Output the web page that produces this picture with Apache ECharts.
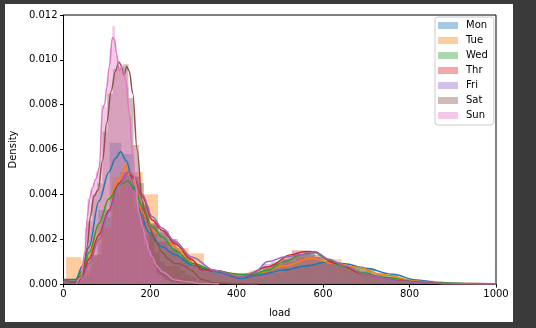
<!DOCTYPE html>
<html><head><meta charset="utf-8">
<script src="https://cdn.jsdelivr.net/npm/echarts@6/dist/echarts.min.js"></script>
<style>html,body{margin:0;padding:0;background:#3a3a3a;}#c{width:536px;height:328px;}</style>
</head><body><div id="c"></div>
<script>
const days = ['Mon','Tue','Wed','Thr','Fri','Sat','Sun'];
const colors = ['#1f77b4','#ff7f0e','#2ca02c','#d62728','#9467bd','#8c564b','#e377c2'];
const xTicks = [0,200,400,600,800,1000];
const yTicks = [0,0.002,0.004,0.006,0.008,0.010,0.012];

// histogram bins: [start, width] and heights
const monBins = [0, 26.7];
const monHist = [0.0002,0.0002,0.0012,0.0033,0.0063,0.0058,0.0034,0.0022,0.0019,0.0015,0.0012,0.0008,0.0006,0.0005,0.0004,0.0004,0.0004,0.0005,0.0005,0.0007,0.0008,0.0009,0.0010,0.0009,0.0008,0.0008,0.0007,0.0005,0.0004,0.0002,0.00015,0.0001,0.00005,0.00003,0.00002,0.00002,0.00002];
const tueBins = [6, 35.4];
const tueHist = [0.0012,0.0010,0.0026,0.0048,0.0050,0.0040,0.0019,0.0016,0.00137,0.0006,0.0004,0.0004,0.0006,0.0008,0.0010,0.0012,0.0012,0.0011,0.0008,0.0007,0.0005,0.0003,0.0002,0.00015];
const wedBins = [10, 26];
const wedHist = [0.0002,0.0004,0.0013,0.0030,0.0044,0.0047,0.0036,0.0026,0.00236,0.0016,0.0011,0.0008,0.0006,0.0005,0.0005,0.0004,0.0005,0.0007,0.0009,0.0011,0.0013,0.0014,0.0012,0.0009,0.0008,0.0007,0.0006,0.0004,0.0003,0.0002,0.00015,0.0001,0.00005,0.00003,0.00002,0.00002];
const thrBins = [0, 22];
const thrHist = [0.0001,0.0001,0.0006,0.0013,0.0025,0.0040,0.0050,0.0048,0.0035,0.0027,0.0023,0.0020,0.0013,0.0009,0.0007,0.0006,0.0005,0.0004,0.0003,0.0004,0.0005,0.0007,0.0009,0.0012,0.0015,0.0015,0.0013,0.0010,0.0009,0.0008,0.0006,0.0005,0.0004,0.0003,0.0002,0.00015,0.0001,0.00005,0.00003];
const friBins = [0, 20];
const friHist = [0.0001,0.0001,0.0003,0.0008,0.0018,0.0030,0.0043,0.0050,0.0045,0.0034,0.0027,0.0024,0.0020,0.0015,0.0011,0.0008,0.0007,0.0006,0.0005,0.0004,0.0004,0.0005,0.0006,0.0009,0.0010,0.0011,0.0012,0.0013,0.0014,0.0012,0.0010,0.0008,0.0007,0.0006,0.0005,0.0004,0.0003,0.00025,0.0002,0.00015,0.0001,0.00005,0.00004,0.00003,0.00002];
const satBins = [30, 12];
const satHist = [0.0002,0.0006,0.0028,0.0040,0.0045,0.0068,0.0085,0.0096,0.0097,0.0098,0.0083,0.0062,0.0045,0.0017,0.0022,0.0014,0.0010,0.0008,0.0008,0.0008,0.0006,0.0004,0.0003,0.0001,0.0001,0.00005,0.00003,0.00003,0.00002,0.00002];
const sunBins = [36, 6.4];
const sunHist = [0.0002,0.0008,0.0025,0.0038,0.0042,0.0045,0.0050,0.0055,0.0080,0.0079,0.0092,0.0105,0.0115,0.0102,0.0095,0.0097,0.0092,0.0088,0.0075,0.0062,0.0048,0.0035,0.0030,0.0023,0.0018,0.0015,0.0011,0.0008,0.0005,0.0004,0.0003,0.0002,0.00015,0.0001,0.00008,0.00006,0.00005,0.00004,0.00003,0.00002,0.00002];

// KDE curves [x, density]
const monKde = [[0,0.0002],[28,0.0002],[44,0.0008],[59,0.00166],[82,0.0037],[105,0.0050],[120,0.0056],[132,0.0059],[145,0.0055],[159,0.0047],[167,0.0042],[182,0.0029],[197,0.0023],[228,0.00166],[258,0.0013],[296,0.00085],[350,0.00055],[411,0.00025],[450,0.0004],[511,0.00062],[560,0.0008],[614,0.0010],[650,0.0009],[699,0.0007],[761,0.00043],[815,0.00018],[860,0.00008],[892,0.00005],[950,0.00002],[1000,0.00001]];
const tueKde = [[0,0.0001],[25,0.0001],[44,0.0005],[59,0.0012],[82,0.0027],[105,0.0038],[125,0.0046],[134,0.0048],[143,0.0053],[150,0.0049],[157,0.0050],[165,0.0044],[182,0.0032],[205,0.0024],[228,0.0021],[251,0.00174],[274,0.0014],[300,0.0009],[350,0.0006],[400,0.00042],[450,0.0005],[511,0.0008],[572,0.00115],[626,0.00093],[680,0.00075],[741,0.0004],[815,0.00013],[860,0.00005],[920,0.00002],[1000,0.00001]];
const wedKde = [[0,0.0001],[25,0.0001],[44,0.0006],[59,0.0014],[82,0.0027],[105,0.0038],[128,0.0044],[149,0.0046],[165,0.0042],[182,0.00345],[205,0.00256],[228,0.0021],[258,0.0015],[296,0.00093],[350,0.0006],[400,0.00045],[434,0.0004],[470,0.0006],[511,0.0010],[550,0.0013],[580,0.0014],[610,0.0011],[641,0.0008],[690,0.0005],[741,0.0003],[815,0.0001],[870,0.00004],[950,0.00001],[1000,0]];
const thrKde = [[0,0.0001],[25,0.0001],[44,0.0004],[59,0.0011],[82,0.0022],[105,0.0033],[128,0.0045],[151,0.0050],[165,0.0047],[182,0.0039],[205,0.00286],[228,0.0024],[258,0.0018],[296,0.0011],[319,0.00064],[350,0.0006],[411,0.0003],[473,0.00077],[526,0.0013],[555,0.00144],[580,0.00144],[626,0.00093],[702,0.0004],[779,0.00013],[840,0.00004],[900,0.00001],[1000,0]];
const friKde = [[0,0.0001],[25,0.0001],[44,0.0003],[59,0.0009],[82,0.0020],[105,0.0032],[128,0.0044],[150,0.0050],[165,0.0048],[182,0.0040],[205,0.0030],[228,0.0025],[258,0.0019],[296,0.0012],[350,0.0006],[411,0.0003],[440,0.0005],[473,0.0010],[511,0.0012],[545,0.0013],[580,0.00144],[614,0.0011],[650,0.0008],[702,0.0004],[779,0.00012],[840,0.00004],[900,0.00001],[1000,0]];
const satKde = [[0,0.0002],[20,0.0001],[35,0.0001],[45,0.0005],[55,0.0017],[62,0.0030],[70,0.0039],[80,0.0042],[90,0.0055],[100,0.0072],[110,0.0086],[120,0.0095],[128,0.0099],[135,0.0097],[140,0.0093],[146,0.0097],[152,0.0095],[160,0.0085],[170,0.0060],[182,0.0037],[190,0.0031],[197,0.0026],[213,0.0019],[228,0.0014],[243,0.0011],[258,0.0009],[268,0.0009],[280,0.0008],[295,0.0006],[320,0.0002],[350,0.00006],[400,0.00001],[450,0]];
const sunKde = [[30,0],[40,0.0003],[50,0.0015],[55,0.0030],[60,0.0038],[67,0.0043],[75,0.0047],[83,0.0052],[90,0.0078],[95,0.0080],[100,0.0088],[106,0.0097],[113,0.0110],[118,0.0109],[123,0.0102],[129,0.0095],[136,0.0097],[144,0.0091],[152,0.0076],[160,0.0058],[167,0.0043],[174,0.0032],[182,0.0026],[190,0.0020],[198,0.0015],[205,0.0012],[216,0.0008],[228,0.00055],[258,0.00018],[288,0.0001],[320,0.00002],[360,0]];

const binsList = [monBins,tueBins,wedBins,thrBins,friBins,satBins,sunBins];
const histList = [monHist,tueHist,wedHist,thrHist,friHist,satHist,sunHist];
const kdeList = [monKde,tueKde,wedKde,thrKde,friKde,satKde,sunKde];

function rgba(hex, a){
  const n = parseInt(hex.slice(1),16);
  return 'rgba('+((n>>16)&255)+','+((n>>8)&255)+','+(n&255)+','+a+')';
}

const series = [];
days.forEach((d,i)=>{
  const [start,width] = binsList[i];
  const data = histList[i].map((h,k)=>[start+k*width, start+(k+1)*width, h]);
  const fill = rgba(colors[i],0.4);
  series.push({
    type:'custom', name:d, z:1, silent:true,
    itemStyle:{color:fill},
    encode:{x:[0,1], y:2},
    data:data,
    clip:true,
    renderItem:function(params, api){
      const p0 = api.coord([api.value(0), api.value(2)]);
      const p1 = api.coord([api.value(1), 0]);
      return {type:'rect', shape:{x:p0[0], y:p0[1], width:p1[0]-p0[0], height:p1[1]-p0[1]}, style:{fill:fill, stroke:null}};
    }
  });
});
days.forEach((d,i)=>{
  series.push({
    type:'line', name:d+' kde', z:5, silent:true, showSymbol:false, symbol:'none',
    smooth:0.35, smoothMonotone:'x', clip:true,
    lineStyle:{color:colors[i], width:1.5},
    itemStyle:{color:colors[i]},
    data:kdeList[i]
  });
});

const chart = echarts.init(document.getElementById('c'), null, {renderer:'canvas'});
const font = 'DejaVu Sans';
chart.setOption({
  animation:false,
  backgroundColor:'#3a3a3a',
  graphic:[{type:'rect', z:-10, silent:true, shape:{x:5, y:4, width:508, height:318}, style:{fill:'#ffffff'}}],
  grid:{left:61, right:40, top:15, bottom:44, show:true, borderColor:'#000', borderWidth:1, backgroundColor:'transparent'},
  legend:{
    orient:'vertical', left:435, top:17,
    data:days.map(d=>({name:d, icon:'rect'})),
    itemWidth:20, itemHeight:7, itemGap:2,
    padding:[2,6,3,3],
    borderColor:'#cccccc', borderWidth:1, borderRadius:3, backgroundColor:'rgba(255,255,255,0.8)',
    textStyle:{fontFamily:font, fontSize:10, color:'#000', lineHeight:13, padding:[0,0,0,3]},
    selectedMode:false
  },
  xAxis:{
    type:'value', min:0, max:1000, interval:200,
    name:'load', nameLocation:'middle', nameGap:24,
    nameTextStyle:{fontFamily:font, fontSize:10, color:'#000'},
    axisLine:{show:true, lineStyle:{color:'#000', width:1}},
    axisTick:{show:true, length:3.5, lineStyle:{color:'#000'}},
    axisLabel:{fontFamily:font, fontSize:10, color:'#000', margin:5, formatter:v=>String(v)},
    splitLine:{show:false}
  },
  yAxis:{
    type:'value', min:0, max:0.012, interval:0.002,
    name:'Density', nameLocation:'middle', nameGap:44, nameRotate:90,
    nameTextStyle:{fontFamily:font, fontSize:10, color:'#000'},
    axisLine:{show:true, lineStyle:{color:'#000', width:1}},
    axisTick:{show:true, length:3.5, lineStyle:{color:'#000'}},
    axisLabel:{fontFamily:font, fontSize:10, color:'#000', margin:6, formatter:v=>v.toFixed(3)},
    splitLine:{show:false}
  },
  series:series
});
</script></body></html>
